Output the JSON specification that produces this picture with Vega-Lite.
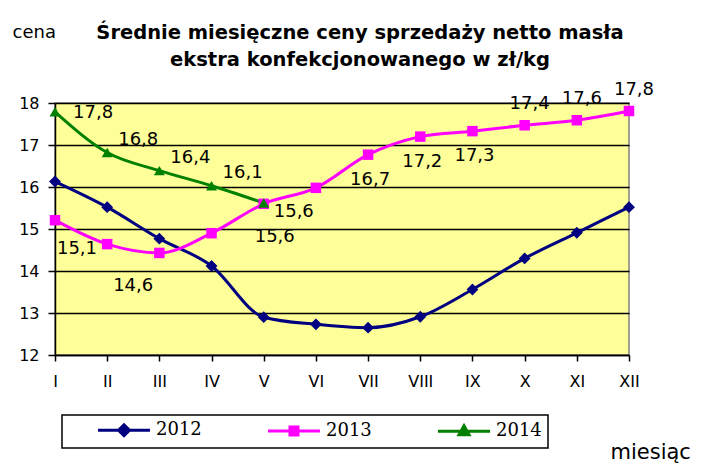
{
  "$schema": "https://vega.github.io/schema/vega-lite/v6.json",
  "width": 574,
  "height": 252,
  "autosize": {"type": "none"},
  "padding": {"left": 55, "top": 103, "right": 72, "bottom": 113},
  "background": "white",
  "title": {
    "text": ["Średnie miesięczne ceny sprzedaży netto masła", "ekstra konfekcjonowanego w zł/kg"],
    "fontSize": 19.5,
    "font": "DejaVu Sans",
    "fontWeight": "bold",
    "anchor": "middle",
    "dx": 18,
    "dy": 47,
    "offset": 0,
    "lineHeight": 27,
    "color": "black"
  },
  "config": {
    "view": {"fill": "#FFFF99", "stroke": "#808080", "strokeWidth": 1.5},
    "font": "DejaVu Sans"
  },
  "data": {
    "values": [
      {"month": "I", "year": "2012", "value": 16.13, "label": null},
      {"month": "II", "year": "2012", "value": 15.52, "label": null},
      {"month": "III", "year": "2012", "value": 14.77, "label": null},
      {"month": "IV", "year": "2012", "value": 14.12, "label": null},
      {"month": "V", "year": "2012", "value": 12.9, "label": null},
      {"month": "VI", "year": "2012", "value": 12.73, "label": null},
      {"month": "VII", "year": "2012", "value": 12.65, "label": null},
      {"month": "VIII", "year": "2012", "value": 12.91, "label": null},
      {"month": "IX", "year": "2012", "value": 13.56, "label": null},
      {"month": "X", "year": "2012", "value": 14.3, "label": null},
      {"month": "XI", "year": "2012", "value": 14.91, "label": null},
      {"month": "XII", "year": "2012", "value": 15.52, "label": null},
      {"month": "I", "year": "2013", "value": 15.21, "label": "15,1"},
      {"month": "II", "year": "2013", "value": 14.64, "label": "14,6"},
      {"month": "III", "year": "2013", "value": 14.43, "label": null},
      {"month": "IV", "year": "2013", "value": 14.9, "label": null},
      {"month": "V", "year": "2013", "value": 15.6, "label": "15,6"},
      {"month": "VI", "year": "2013", "value": 15.98, "label": null},
      {"month": "VII", "year": "2013", "value": 16.77, "label": "16,7"},
      {"month": "VIII", "year": "2013", "value": 17.2, "label": "17,2"},
      {"month": "IX", "year": "2013", "value": 17.33, "label": "17,3"},
      {"month": "X", "year": "2013", "value": 17.47, "label": "17,4"},
      {"month": "XI", "year": "2013", "value": 17.59, "label": "17,6"},
      {"month": "XII", "year": "2013", "value": 17.81, "label": "17,8"},
      {"month": "I", "year": "2014", "value": 17.79, "label": "17,8"},
      {"month": "II", "year": "2014", "value": 16.82, "label": "16,8"},
      {"month": "III", "year": "2014", "value": 16.39, "label": "16,4"},
      {"month": "IV", "year": "2014", "value": 16.03, "label": "16,1"},
      {"month": "V", "year": "2014", "value": 15.62, "label": "15,6"}
    ]
  },
  "encoding": {
    "x": {
      "field": "month",
      "type": "ordinal",
      "sort": null,
      "scale": {"type": "point", "padding": 0, "domain": ["I", "II", "III", "IV", "V", "VI", "VII", "VIII", "IX", "X", "XI", "XII"]},
      "axis": {
        "title": "miesiąc",
        "titleX": 555,
        "titleY": 97,
        "titleAlign": "left",
        "titleBaseline": "middle",
        "titleFontSize": 21,
        "titleFontWeight": "normal",
        "titleColor": "black",
        "labelAngle": 0,
        "labelFontSize": 16,
        "labelPadding": 12,
        "labelColor": "black",
        "tickSize": 6,
        "tickColor": "black",
        "tickWidth": 1.5,
        "domainColor": "black",
        "domainWidth": 1.5,
        "grid": false
      }
    },
    "y": {
      "field": "value",
      "type": "quantitative",
      "scale": {"domain": [12, 18], "nice": false, "zero": false},
      "axis": {
        "title": "cena",
        "titleAngle": 0,
        "titleX": -43,
        "titleY": -71,
        "titleAlign": "left",
        "titleBaseline": "middle",
        "titleFontSize": 18,
        "titleFontWeight": "normal",
        "titleColor": "black",
        "values": [12, 13, 14, 15, 16, 17, 18],
        "labelFontSize": 16,
        "labelPadding": 9,
        "labelColor": "black",
        "tickSize": 7,
        "tickColor": "black",
        "tickWidth": 1.5,
        "domainColor": "black",
        "domainWidth": 1.5,
        "grid": true,
        "gridColor": "black",
        "gridWidth": 1.5,
        "gridOpacity": 1
      }
    }
  },
  "layer": [
    {
      "mark": {"type": "line", "interpolate": "monotone", "strokeWidth": 3},
      "encoding": {
        "color": {
          "field": "year",
          "type": "nominal",
          "scale": {"domain": ["2012", "2013", "2014"], "range": ["#000080", "#FF00FF", "#008000"]},
          "legend": {
            "orient": "none",
            "legendX": 7,
            "legendY": 312,
            "direction": "horizontal",
            "title": null,
            "strokeColor": "black",
            "padding": 6,
            "symbolSize": 100,
            "labelOffset": 70,
            "columnPadding": 36,
            "labelFont": "DejaVu Serif",
            "labelFontSize": 18,
            "labelColor": "black",
            "encode": {
              "legend": {"update": {"stroke": {"value": "black"}, "strokeWidth": {"value": 1.5}, "width": {"value": 507}}},
              "symbols": {
                "update": {
                  "shape": {"signal": "datum.value == '2012' ? 'M4.2,0L14.6,0M9.4,-1.1L10.5,0L9.4,1.1L8.3,0Z' : datum.value == '2013' ? 'M4.2,0L14.6,0M8.6,-0.8L10.2,-0.8L10.2,0.8L8.6,0.8Z' : 'M4.2,0L14.6,0M9.4,-1.1L10.4,0.7L8.4,0.7Z'"},
                  "strokeWidth": {"value": 3},
                  "stroke": {"scale": "color", "field": "value"},
                  "fill": {"scale": "color", "field": "value"},
                  "opacity": {"value": 1},
                  "fillOpacity": {"value": 1},
                  "strokeOpacity": {"value": 1}
                }
              }
            }
          }
        }
      }
    },
    {
      "transform": [{"filter": {"field": "year", "equal": "2012"}}],
      "mark": {"type": "point", "filled": true, "opacity": 1, "size": 140, "shape": "diamond", "color": "#000080"}
    },
    {
      "transform": [{"filter": {"field": "year", "equal": "2013"}}],
      "mark": {"type": "point", "filled": true, "opacity": 1, "size": 110, "shape": "square", "color": "#FF00FF"}
    },
    {
      "transform": [{"filter": {"field": "year", "equal": "2014"}}],
      "mark": {"type": "point", "filled": true, "opacity": 1, "size": 120, "shape": "triangle-up", "color": "#008000"}
    },
    {
      "transform": [{"filter": {"and": [{"field": "year", "equal": "2014"}, {"field": "month", "equal": "I"}]}}],
      "mark": {"type": "text", "align": "left", "baseline": "middle", "dx": 18, "dy": 1, "fontSize": 18, "color": "black"},
      "encoding": {"text": {"field": "label"}}
    },
    {
      "transform": [{"filter": {"and": [{"field": "year", "equal": "2014"}, {"field": "month", "oneOf": ["II", "III", "IV"]}]}}],
      "mark": {"type": "text", "align": "left", "baseline": "middle", "dx": 11, "dy": -13, "fontSize": 18, "color": "black"},
      "encoding": {"text": {"field": "label"}}
    },
    {
      "transform": [{"filter": {"and": [{"field": "year", "equal": "2014"}, {"field": "month", "equal": "V"}]}}],
      "mark": {"type": "text", "align": "left", "baseline": "middle", "dx": 10, "dy": 9, "fontSize": 18, "color": "black"},
      "encoding": {"text": {"field": "label"}}
    },
    {
      "transform": [{"filter": {"and": [{"field": "year", "equal": "2013"}, {"field": "month", "equal": "I"}]}}],
      "mark": {"type": "text", "align": "center", "baseline": "middle", "dx": 22, "dy": 29, "fontSize": 18, "color": "black"},
      "encoding": {"text": {"field": "label"}}
    },
    {
      "transform": [{"filter": {"and": [{"field": "year", "equal": "2013"}, {"field": "month", "equal": "II"}]}}],
      "mark": {"type": "text", "align": "center", "baseline": "middle", "dx": 26, "dy": 42, "fontSize": 18, "color": "black"},
      "encoding": {"text": {"field": "label"}}
    },
    {
      "transform": [{"filter": {"and": [{"field": "year", "equal": "2013"}, {"field": "month", "equal": "V"}]}}],
      "mark": {"type": "text", "align": "center", "baseline": "middle", "dx": 11, "dy": 33, "fontSize": 18, "color": "black"},
      "encoding": {"text": {"field": "label"}}
    },
    {
      "transform": [{"filter": {"and": [{"field": "year", "equal": "2013"}, {"field": "month", "oneOf": ["VII", "VIII", "IX"]}]}}],
      "mark": {"type": "text", "align": "center", "baseline": "middle", "dx": 2, "dy": 25, "fontSize": 18, "color": "black"},
      "encoding": {"text": {"field": "label"}}
    },
    {
      "transform": [{"filter": {"and": [{"field": "year", "equal": "2013"}, {"field": "month", "oneOf": ["X", "XI", "XII"]}]}}],
      "mark": {"type": "text", "align": "center", "baseline": "middle", "dx": 5, "dy": -21, "fontSize": 18, "color": "black"},
      "encoding": {"text": {"field": "label"}}
    }
  ]
}
